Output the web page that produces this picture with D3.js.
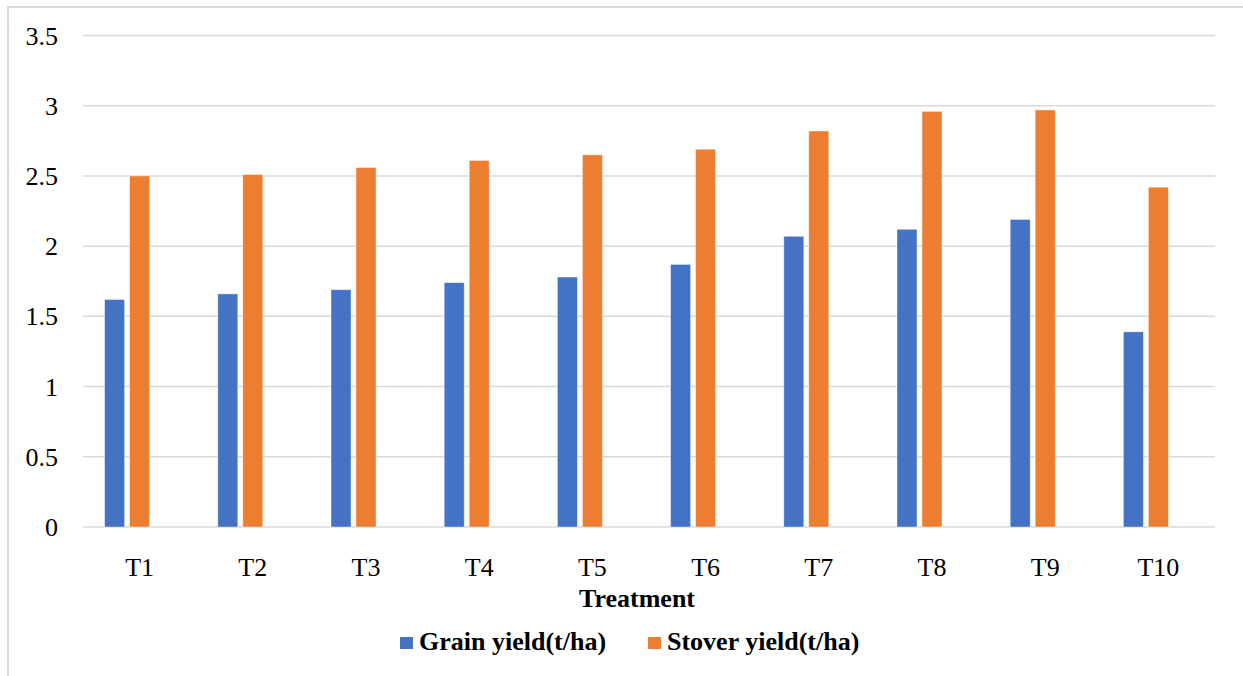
<!DOCTYPE html>
<html>
<head>
<meta charset="utf-8">
<script src="https://cdn.jsdelivr.net/npm/d3@7"></script>
<style>
  html, body { margin: 0; padding: 0; background: #fff; }
  svg { display: block; }
  svg text { font-family: "Liberation Serif", "Times New Roman", Times, "DejaVu Serif", serif; }
</style>
</head>
<body>
<svg id="chart" width="1243" height="676"></svg>
<script>
const categories = ["T1","T2","T3","T4","T5","T6","T7","T8","T9","T10"];
const grainYield = [1.62, 1.66, 1.69, 1.74, 1.78, 1.87, 2.07, 2.12, 2.19, 1.39];
const stoverYield = [2.50, 2.51, 2.56, 2.61, 2.65, 2.69, 2.82, 2.96, 2.97, 2.42];
const yTicks = [0, 0.5, 1, 1.5, 2, 2.5, 3, 3.5];
const seriesNames = ["Grain yield(t/ha)", "Stover yield(t/ha)"];
const seriesColors = ["#4472C4", "#ED7D31"];
const xTitle = "Treatment";

(function () {
const svg = d3.select("#chart");

// outer frame
svg.append("rect")
  .attr("x", 8).attr("y", 7).attr("width", 1300).attr("height", 700)
  .attr("fill", "none").attr("stroke", "#d9d9d9").attr("stroke-width", 2);

const plotLeft = 83, plotRight = 1215, plotTop = 35.5, plotBottom = 527;

const y = d3.scaleLinear().domain([0, 3.5]).range([plotBottom, plotTop]);
const x0 = d3.scaleBand().domain(categories).range([plotLeft, plotRight]).paddingInner(0).paddingOuter(0);
const x1 = d3.scaleBand().domain(["grain", "stover", "blank"])
  .range([0, x0.bandwidth()]).paddingInner(0.2).paddingOuter(0.864);

// gridlines
svg.append("g").selectAll("line").data(yTicks).join("line")
  .attr("x1", plotLeft).attr("x2", plotRight)
  .attr("y1", d => y(d)).attr("y2", d => y(d))
  .attr("stroke", "#d9d9d9").attr("stroke-width", 1.5);

// y tick labels
svg.append("g").selectAll("text").data(yTicks).join("text")
  .attr("x", 58).attr("y", d => y(d) + 9)
  .attr("text-anchor", "end")
  .attr("font-size", 26).attr("fill", "#000")
  .text(d => d);

// bars
const rows = categories.map((c, i) => ({ c, grain: grainYield[i], stover: stoverYield[i] }));
const g = svg.append("g");
rows.forEach(r => {
  ["grain", "stover"].forEach((k, j) => {
    g.append("rect")
      .attr("x", x0(r.c) + x1(k))
      .attr("y", y(r[k]))
      .attr("width", x1.bandwidth())
      .attr("height", y(0) - y(r[k]))
      .attr("fill", seriesColors[j])
      .attr("stroke", "#ffffff").attr("stroke-opacity", 0.5).attr("stroke-width", 0.8);
  });
});

// x tick labels
svg.append("g").selectAll("text").data(categories).join("text")
  .attr("x", d => x0(d) + x0.bandwidth() / 2)
  .attr("y", 576)
  .attr("text-anchor", "middle")
  .attr("font-size", 26).attr("fill", "#000")
  .text(d => d);

// x axis title
svg.append("text")
  .attr("x", 637).attr("y", 607)
  .attr("text-anchor", "middle")
  .attr("font-size", 26).attr("font-weight", "bold").attr("fill", "#000")
  .text(xTitle);

// legend
const legendItems = [
  { name: seriesNames[0], color: seriesColors[0], x: 400 },
  { name: seriesNames[1], color: seriesColors[1], x: 648 }
];
const lg = svg.append("g");
legendItems.forEach(it => {
  lg.append("rect").attr("x", it.x).attr("y", 637).attr("width", 13).attr("height", 12).attr("fill", it.color);
  lg.append("text").attr("x", it.x + 19).attr("y", 650)
    .attr("font-size", 26).attr("font-weight", "bold").attr("fill", "#000")
    .text(it.name);
});
})();
</script>
</body>
</html>
